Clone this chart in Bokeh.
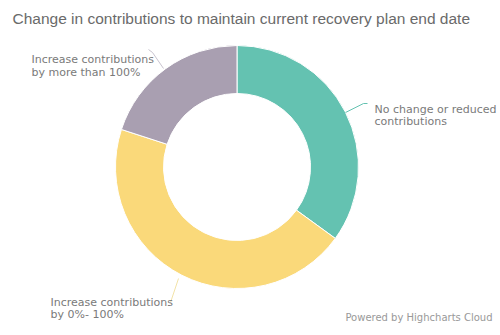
import math
from bokeh.plotting import figure
from bokeh.models import Range1d
from bokeh.core.properties import value
from bokeh.embed import file_html
from bokeh.resources import INLINE

# ---- data ----
title_text = "Change in contributions to maintain current recovery plan end date"
categories = ["No change or reduced contributions",
              "Increase contributions by 0%- 100%",
              "Increase contributions by more than 100%"]
shares = [35.0, 45.0, 20.0]
colors = ["#64c2b1", "#fad97a", "#a99fb1"]
credit = "Powered by Highcharts Cloud"

W, H = 500, 335
p = figure(width=W, height=H, output_backend="svg", toolbar_location=None,
           x_range=Range1d(0, W), y_range=Range1d(0, H), min_border=0)
p.axis.visible = False
p.grid.visible = False
p.outline_line_color = None
p.background_fill_color = "white"
p.border_fill_color = "white"

def Y(y):
    return H - y

cx, cy = 236.5, 166.5
r_out, r_in = 121.5, 73.5

total = sum(shares)
acc = 0.0
starts, ends = [], []
for s in shares:
    a1 = acc / total * 2 * math.pi
    acc += s
    a2 = acc / total * 2 * math.pi
    # clockwise from 12 o'clock -> math angle
    starts.append(math.pi / 2 - a2)
    ends.append(math.pi / 2 - a1)

p.annular_wedge(x=[cx] * 3, y=[Y(cy)] * 3, inner_radius=r_in, outer_radius=r_out,
                start_angle=starts, end_angle=ends, fill_color=colors,
                line_color="white", line_width=1)

# connectors
p.line([345, 363, 367], [Y(112), Y(103), Y(103)], line_color=colors[0], line_width=1)
p.line([170, 178], [Y(302), Y(278)], line_color="#f3e3a8", line_width=1)
p.line([148, 152, 163], [Y(49), Y(52), Y(68)], line_color="#c9c4cf", line_width=1)

font = value("DejaVu Sans")

p.text(x=[12], y=[Y(17.5)], text=[title_text], text_font=value("Liberation Sans"),
       text_font_size="15.5px", text_color="#6a6a6a", text_baseline="alphabetic")

lab = dict(text_font=font, text_font_size="11px", text_color="#7a7a7a",
           text_baseline="alphabetic")
p.text(x=[374, 374], y=[Y(108.5), Y(121)], text=["No change or reduced", "contributions"], **lab)
p.text(x=[50, 50], y=[Y(301.5), Y(314)], text=["Increase contributions", "by 0%- 100%"], **lab)
p.text(x=[31, 31], y=[Y(59), Y(71.5)], text=["Increase contributions", "by more than 100%"], **lab)

p.text(x=[492], y=[Y(317)], text=[credit], text_font=font, text_font_size="10px",
       text_color="#999999", text_baseline="alphabetic", text_align="right")

open("out.html", "w").write(file_html(p, INLINE))
